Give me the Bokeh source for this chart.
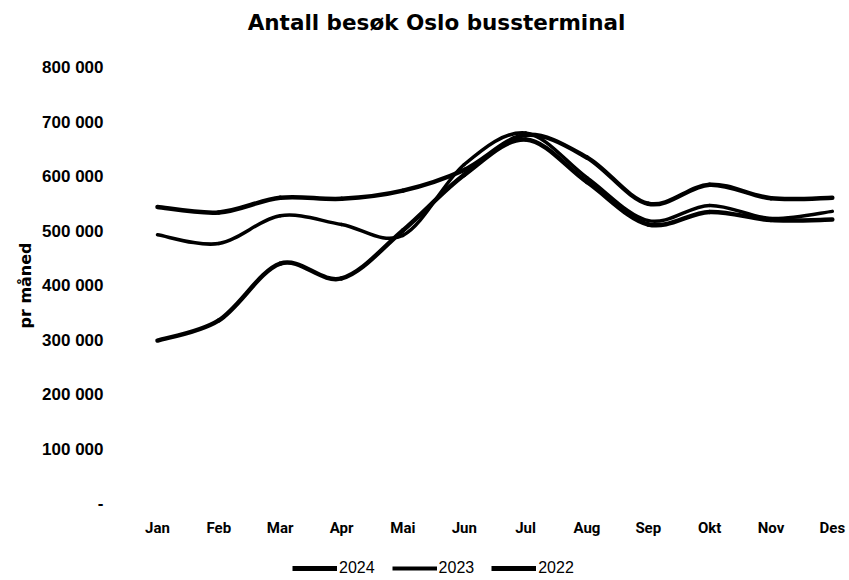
import numpy as np
from bokeh.plotting import figure
from bokeh.layouts import column
from bokeh.models import (ColumnDataSource, FixedTicker, Legend, LegendItem, Label)
from bokeh.embed import file_html
from bokeh.resources import INLINE

months = ["Jan", "Feb", "Mar", "Apr", "Mai", "Jun", "Jul", "Aug", "Sep", "Okt", "Nov", "Des"]
v2024 = [544000, 534000, 561000, 559000, 574000, 612000, 676000, 635000, 550000, 585000, 560000, 561000]
v2023 = [493000, 477000, 528000, 512000, 492000, 622000, 680000, 598000, 519000, 547000, 523000, 536000]
v2022 = [299000, 336000, 440000, 413000, 501000, 603000, 668000, 590000, 512000, 535000, 520000, 521000]
y_ticks = [0, 100000, 200000, 300000, 400000, 500000, 600000, 700000, 800000]
y_tick_labels = ["-", "100 000", "200 000", "300 000", "400 000", "500 000", "600 000", "700 000", "800 000"]
series = [("2024", v2024, 4.5), ("2023", v2023, 3.5), ("2022", v2022, 4.5)]
title_text = "Antall besøk Oslo bussterminal"

FONT = "Roboto"
FONT2 = "Liberation Sans"


def strip(height):
    f = figure(width=849, height=height, output_backend="svg", toolbar_location=None,
               x_range=(0, 1), y_range=(0, 1), x_axis_location=None, y_axis_location=None,
               min_border_left=0, min_border_right=0, min_border_top=0, min_border_bottom=0)
    f.outline_line_color = None
    f.xgrid.visible = False
    f.ygrid.visible = False
    return f


# title strip
pt = strip(40)
pt.add_layout(Label(x=310, y=18, x_units="screen", y_units="screen", text=title_text,
                    text_align="center", text_baseline="middle", text_font="DejaVu Sans",
                    text_font_style="bold", text_font_size="21.5px", text_color="#000000"))

# main chart
p = figure(width=849, height=508, output_backend="svg", toolbar_location=None,
           x_range=(-0.505, 11.28), y_range=(0, 800000),
           min_border_left=126, min_border_right=0, min_border_top=27, min_border_bottom=45)
p.outline_line_color = None
p.xgrid.visible = False
p.ygrid.visible = False


def bezier_source(vals):
    xs = np.arange(len(vals), dtype=float)
    ys = np.array(vals, dtype=float)
    n = len(ys)
    x0, y0, x1, y1, cx0, cy0, cx1, cy1 = [], [], [], [], [], [], [], []
    for i in range(n - 1):
        ip = max(i - 1, 0)
        inn = min(i + 2, n - 1)
        x0.append(xs[i]); y0.append(ys[i])
        x1.append(xs[i + 1]); y1.append(ys[i + 1])
        cx0.append(xs[i] + (xs[i + 1] - xs[ip]) / 6.0)
        cy0.append(ys[i] + (ys[i + 1] - ys[ip]) / 6.0)
        cx1.append(xs[i + 1] - (xs[inn] - xs[i]) / 6.0)
        cy1.append(ys[i + 1] - (ys[inn] - ys[i]) / 6.0)
    return ColumnDataSource(dict(x0=x0, y0=y0, x1=x1, y1=y1, cx0=cx0, cy0=cy0, cx1=cx1, cy1=cy1))


for name, vals, w in series:
    src = bezier_source(vals)
    p.bezier(x0="x0", y0="y0", x1="x1", y1="y1", cx0="cx0", cy0="cy0",
             cx1="cx1", cy1="cy1", source=src, line_color="black",
             line_width=w, line_cap="round")

p.xaxis.ticker = FixedTicker(ticks=list(range(len(months))))
p.xaxis.major_label_overrides = {i: m for i, m in enumerate(months)}
p.yaxis.ticker = FixedTicker(ticks=y_ticks)
p.yaxis.major_label_overrides = {t: l for t, l in zip(y_ticks, y_tick_labels)}
for ax in (p.xaxis[0], p.yaxis[0]):
    ax.axis_line_color = None
    ax.major_tick_line_color = None
    ax.minor_tick_line_color = None
    ax.major_label_text_font_style = "bold"
    ax.major_label_text_color = "#000000"
p.xaxis.major_label_text_font = FONT
p.xaxis.major_label_text_font_size = "15px"
p.yaxis.major_label_text_font = FONT2
p.yaxis.major_label_text_font_size = "17px"
p.xaxis.major_label_standoff = 9
p.yaxis.major_label_standoff = 17
p.yaxis.axis_label = "pr måned"
p.yaxis.axis_label_text_font = "DejaVu Sans"
p.yaxis.axis_label_text_font_style = "bold"
p.yaxis.axis_label_text_font_size = "16px"
p.yaxis.axis_label_text_color = "#000000"
p.yaxis.axis_label_standoff = 4

# legend strip below the chart (lines kept out of its visible range)
pl = strip(32)
items = []
for name, vals, w in series:
    r = pl.line(x=list(range(len(vals))), y=vals, line_color="black", line_width=w + 0.5)
    items.append(LegendItem(label=name, renderers=[r]))
legend = Legend(items=items, orientation="horizontal", location=(166, 2),
                glyph_width=45, glyph_height=20, label_standoff=2, spacing=17,
                padding=0, margin=0, border_line_alpha=0, background_fill_alpha=0,
                label_text_font=FONT2, label_text_font_size="16px", label_text_color="#000000")
pl.add_layout(legend, "center")

layout = column(pt, p, pl, spacing=0)
open("out.html", "w").write(file_html(layout, INLINE))
